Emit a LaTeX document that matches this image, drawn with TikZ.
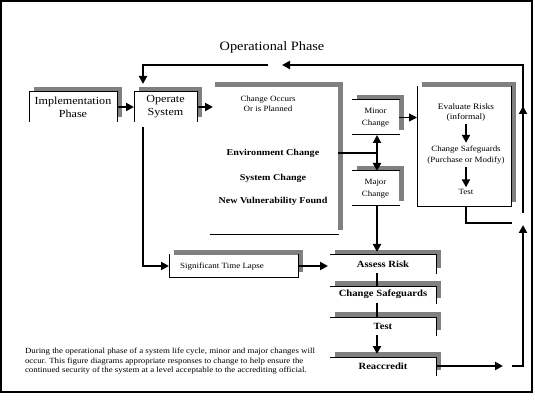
\documentclass[tikz,border=0pt]{standalone}
\usepackage{fontspec}
\setmainfont{Liberation Serif}[FakeStretch=1.12]
\usetikzlibrary{arrows.meta,shadows}
\definecolor{shgray}{RGB}{128,128,128}
\begin{document}
\begin{tikzpicture}[x=1pt,y=-1pt,
  every node/.style={inner sep=0pt, outer sep=0pt},
  box/.style={fill=white, general shadow={fill=shgray, shadow xshift=5pt, shadow yshift=5pt}},
  edgeline/.style={line width=1pt, line cap=rect},
  conn/.style={line width=2pt},
  tipa/.tip={Triangle[length=8pt,width=8pt]},
  arr/.style={conn, -tipa},
  thinarr/.style={line width=1pt, -tipa},
  dbl/.style={conn, tipa-tipa},
  small/.style={font=\fontsize{8}{10}\selectfont, align=center},
  boxtxt/.style={font=\fontsize{10.8}{13}\selectfont, align=center},
  boldtxt/.style={font=\fontsize{9}{11}\selectfont\bfseries, align=center},
  stacktxt/.style={font=\fontsize{9.5}{11}\selectfont\bfseries, align=center}
]
\useasboundingbox (0,0) rectangle (535,403);
\draw[line width=2pt] (1,1) rectangle (532,392);

% title
\node[font=\fontsize{12.8}{14}\selectfont] (title) at (272,47) {Operational Phase};

% boxes
\node[box, minimum width=88pt, minimum height=30pt, boxtxt] (impl) at (73,107) {Implementation\\Phase};
\node[box, minimum width=63pt, minimum height=30pt, boxtxt] (oper) at (165.5,107) {Operate\\System};
\node[box, minimum width=128pt, minimum height=148pt] (big) at (274,161) {};
\node[box, minimum width=47pt, minimum height=35pt, small, font=\fontsize{8}{12.5}\selectfont] (minor) at (375.5,117.5) {Minor\\Change};
\node[box, minimum width=47pt, minimum height=35pt, small, font=\fontsize{8}{11.5}\selectfont] (major) at (375.5,188.5) {Major\\Change};
\node[box, minimum width=94pt, minimum height=120pt] (ev) at (464,147) {};
\node[box, minimum width=129pt, minimum height=22pt] (signif) at (233.5,266) {};
\node[box, minimum width=106pt, minimum height=18pt, stacktxt] (assess) at (383,264) {Assess Risk};
\node[box, minimum width=106pt, minimum height=17pt, stacktxt] (cs) at (383,294.5) {Change Safeguards};
\node[box, minimum width=106pt, minimum height=18pt, stacktxt] (test) at (383,326) {Test};
\node[box, minimum width=106pt, minimum height=18pt, stacktxt] (reacc) at (383,366) {Reaccredit};

% visible box edges
\draw[edgeline] (impl.south west) -- (impl.north west) -- (impl.north east) -- (impl.south east);
\draw[edgeline] (oper.south west) -- (oper.north west) -- (oper.north east) -- (oper.south east);
\draw[edgeline] (big.south west) -- (big.south east);
\draw[edgeline] (minor.north west) -- (minor.north east);
\draw[edgeline] (minor.south west) -- (minor.south east);
\draw[edgeline] (major.north west) -- (major.north east);
\draw[edgeline] (major.south west) -- (major.south east);
\draw[edgeline] (ev.north west) -- (ev.south west) -- (ev.south east) -- (ev.north east);
\draw[edgeline] (signif.north west) -- (signif.south west) -- (signif.south east) -- (signif.north east);
\draw[edgeline] (assess.north west) -- (assess.north east) -- (assess.south east);
\draw[edgeline] (cs.north west) -- (cs.north east) -- (cs.south east);
\draw[edgeline] (test.north west) -- (test.north east) -- (test.south east);
\draw[edgeline] (reacc.north west) -- (reacc.north east) -- (reacc.south east);

% texts inside big box
\node[small, font=\fontsize{8}{9.5}\selectfont] (t1) at (268,104) {Change Occurs\\Or is Planned};
\node[boldtxt] (t2) at (273,153) {Environment Change};
\node[boldtxt] (t3) at (273,178) {System Change};
\node[boldtxt] (t4) at (273,201) {New Vulnerability Found};

% text inside significant box
\node[small] (st) at (222,267) {Significant Time Lapse};

% texts inside evaluate box
\node[small, font=\fontsize{8.4}{10}\selectfont] (ev1) at (466,112) {Evaluate Risks\\(informal)};
\node[small, font=\fontsize{8}{11}\selectfont] (ev2) at (466,155) {Change Safeguards\\(Purchase or Modify)};
\node[small] (ev3) at (466,192) {Test};
\draw[arr] ([yshift=-3pt]ev1.south) -- ([yshift=3pt]ev2.north);
\draw[arr] ([yshift=-3pt]ev2.south) -- ([yshift=2pt]ev3.north);

% helper coordinates
\coordinate (vx) at (377,0);
\coordinate (R1) at (523,213);
\coordinate (Rmid) at (523,106);
\coordinate (Rmid2) at (523,113);
\coordinate (Rtop) at (523,65);
\coordinate (Tarr) at (282,65);
\coordinate (Tgap) at (268,65);
\coordinate (vL) at (143,84);
\coordinate (vL2) at (143,127);
\coordinate (Rb1) at (503,366);
\coordinate (Rb2) at (512,366);
\coordinate (Rb3) at (523,366);
\coordinate (Rup) at (523,225);
\coordinate (Ee) at (512,223);

% connectors
\draw[arr] (impl.east) -- (oper.west);
\draw[arr] (oper.east) -- ([xshift=3pt]oper.east -| big.west);
\draw[arr] (R1) -- (Rmid);
\draw[arr] (Rmid2) -- (Rtop) -- (Tarr);
\draw[arr] (Tgap) -| (vL);
\draw[arr] (vL2) |- (signif.west);
\draw[arr] (signif.east) -- ([xshift=-2pt]signif.east -| assess.west);
\draw[conn] (big.east |- t2) -- (vx |- t2);
\draw[dbl] (minor.south -| vx) -- (major.north -| vx);
\draw[thinarr] (minor.east) -- (minor.east -| ev.west);
\draw[arr] (major.south -| vx) -- ([yshift=3pt]assess.north -| vx);
\draw[conn] (assess.south -| vx) -- (cs.north -| vx);
\draw[conn] (cs.south -| vx) -- (test.north -| vx);
\draw[arr] (test.south -| vx) -- ([yshift=3pt]reacc.north -| vx);
\draw[arr] (reacc.east) -- (Rb1);
\draw[arr] (Rb2) -- (Rb3) -- (Rup);
\draw[conn] (ev.south -| ev3) |- (Ee);

% paragraph
\node[anchor=north west, align=left, font=\fontsize{7.9}{9.5}\selectfont] (para) at (25,348)
{During the operational phase of a system life cycle, minor and major changes will\\
occur. This figure diagrams appropriate responses to change to help ensure the\\
continued security of the system at a level acceptable to the accrediting official.};
\end{tikzpicture}
\end{document}
